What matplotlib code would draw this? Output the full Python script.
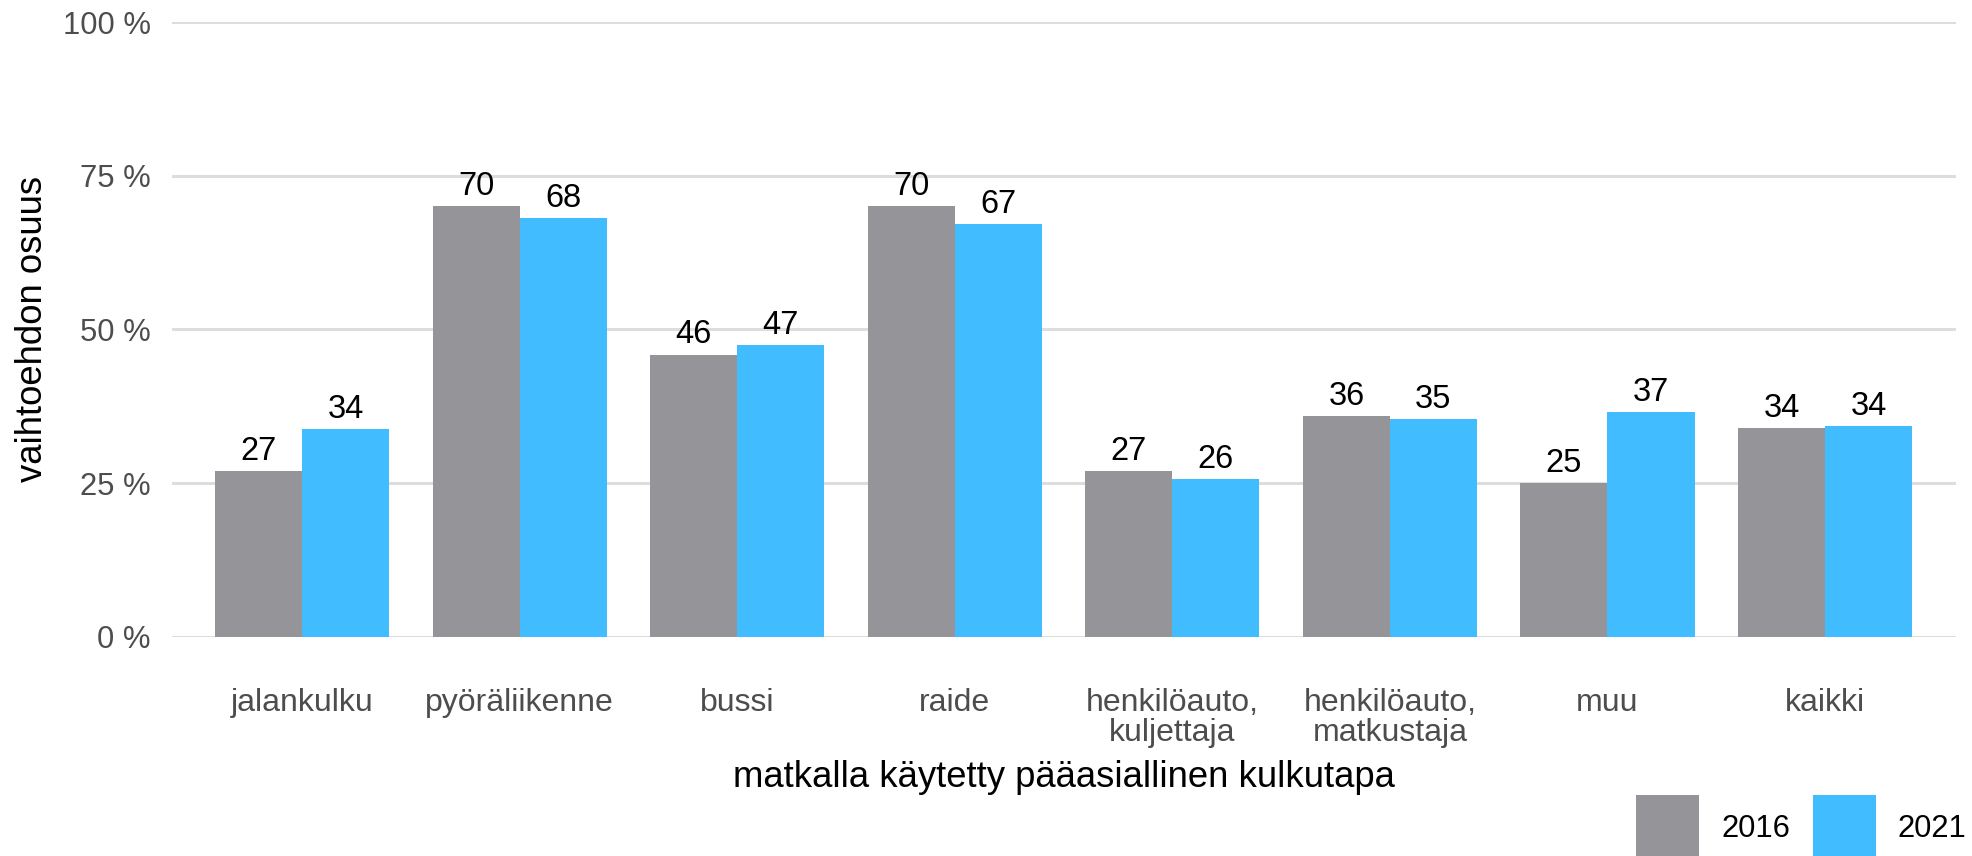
import matplotlib
matplotlib.use("Agg")
import matplotlib.pyplot as plt
from matplotlib.patches import Rectangle
import numpy as np

categories = ["jalankulku", "pyöräliikenne", "bussi", "raide",
              "henkilöauto,\nkuljettaja", "henkilöauto,\nmatkustaja", "muu", "kaikki"]
series_names = ["2016", "2021"]
v2016 = [26.9, 70.0, 45.9, 70.0, 26.9, 35.9, 25.0, 34.0]
v2021 = [33.8, 68.1, 47.4, 67.2, 25.7, 35.4, 36.6, 34.2]
yticks = [0, 25, 50, 75, 100]
ytick_labels = ["0 %", "25 %", "50 %", "75 %", "100 %"]
colors = ["#959499", "#40BCFF"]

plt.rcParams['font.family'] = ['Liberation Sans', 'DejaVu Sans']

W, H = 1972, 856
fig = plt.figure(figsize=(W / 100, H / 100), dpi=100)
ax = fig.add_axes([171.5 / W, 1 - 636.7 / H, (1955.6 - 171.5) / W, (636.7 - 22) / H])

x = np.arange(1, len(categories) + 1)
bw = 0.4
for vals, off, col in [(v2016, -bw / 2, colors[0]), (v2021, bw / 2, colors[1])]:
    bars = ax.bar(x + off, vals, width=bw, color=col, zorder=2)
    for b, v in zip(bars, vals):
        ax.annotate(f"{round(v)}", (b.get_x() + b.get_width() / 2, v),
                    xytext=(0, 8), textcoords="offset points",
                    ha="center", va="baseline", fontsize=23.5, color="black", zorder=3)

ax.set_xlim(0.4, len(categories) + 0.6)
ax.set_ylim(0, 100)
ax.set_yticks(yticks)
ax.set_yticklabels(ytick_labels)
ax.set_xticks(x)
ax.set_xticklabels(categories, linespacing=1.0)
ax.tick_params(axis="x", length=0, pad=37, labelsize=23, labelcolor="#4D4D4D")
ax.tick_params(axis="y", length=0, pad=15, labelsize=22.3, labelcolor="#4D4D4D")
for lbl in ax.get_yticklabels():
    lbl.set_verticalalignment("center_baseline")

ax.grid(axis="y", color="#DDDDDD", linewidth=2.2, zorder=0)
ax.grid(axis="x", visible=False)
for s in ax.spines.values():
    s.set_visible(False)
ax.set_axisbelow(True)

fig.text(1063.5 / W, 1 - 786.7 / H, "matkalla käytetty pääasiallinen kulkutapa",
         ha="center", va="baseline", fontsize=26.3, color="black")
fig.text(50 / W, 1 - 329 / H, "vaihtoehdon osuus", rotation=90,
         ha="right", va="center", fontsize=26.3, color="black")

# legend
sq = 63
for name, col, sx, tx in [(series_names[0], colors[0], 1636, 1721.7),
                          (series_names[1], colors[1], 1812.7, 1897.7)]:
    fig.patches.append(Rectangle((sx / W, 1 - (795 + sq) / H), sq / W, sq / H,
                                 transform=fig.transFigure, facecolor=col,
                                 edgecolor="none"))
    fig.text(tx / W, 1 - 837.3 / H, name, ha="left", va="baseline",
             fontsize=22.3, color="black")

fig.savefig("out.png", dpi=100)
